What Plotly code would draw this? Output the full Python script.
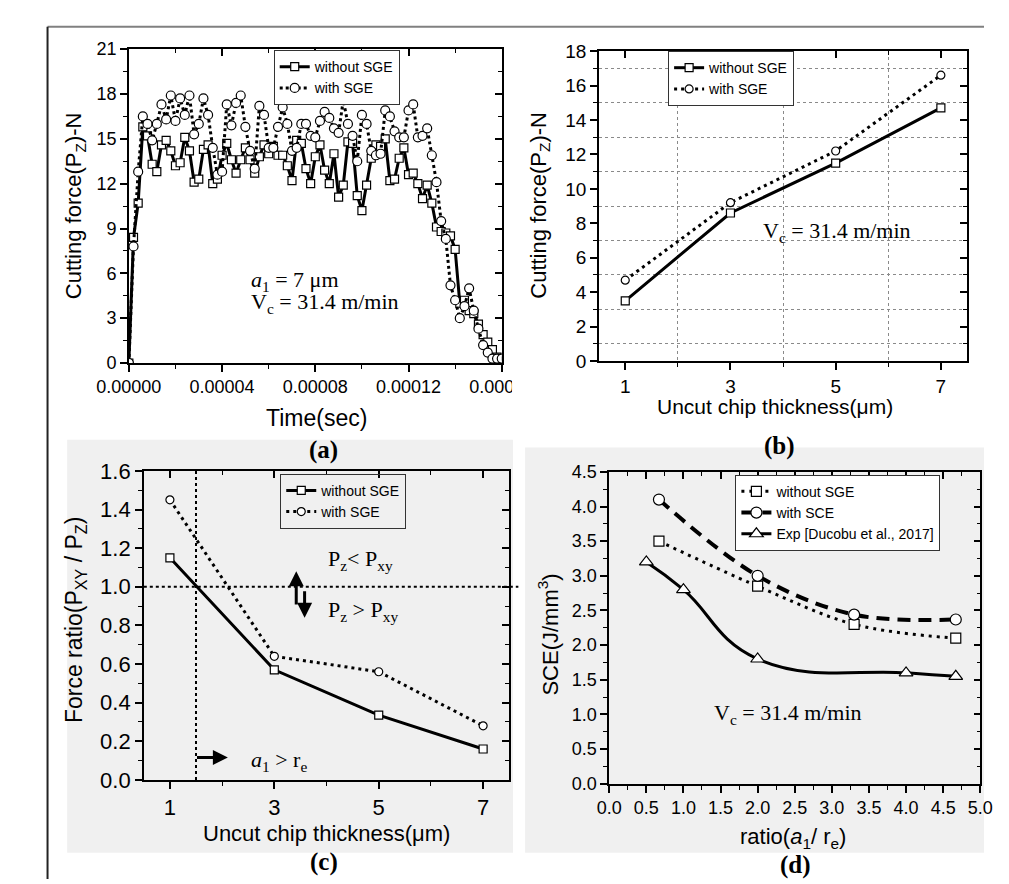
import plotly.graph_objects as go

W, H = 1009, 884

# ---------------- data ----------------
# (a) cutting force vs time, a1 = 7 um
TIME_STEP = 2e-6
a_without = [0, 8.4, 10.7, 15.8, 15.2, 13.3, 12.8, 14.6, 14.9, 14.2,
             13.2, 13.4, 15.1, 14.2, 12.1, 12.3, 14.3, 14.6, 12.0, 12.3,
             13.9, 14.7, 13.6, 12.7, 13.6, 14.4, 13.6, 12.7, 13.8, 14.6,
             14.0, 14.5, 13.9, 13.9, 13.2, 12.2, 14.9, 14.7, 13.0, 12.0,
             13.8, 14.6, 12.9, 12.0, 14.0, 11.1, 11.9, 14.8, 14.7, 11.2,
             10.2, 11.9, 13.7, 14.6, 14.5, 15.0, 12.2, 12.3, 13.7, 14.4,
             12.6, 12.7, 12.0, 11.0, 11.9, 10.7, 9.1, 8.8, 8.7, 8.5,
             7.6, 4.0, 4.2, 3.5, 3.3, 2.6, 1.9, 1.4, 0.9, 0.4, 0.3]
a_with = [0, 7.8, 12.8, 16.5, 16.0, 14.9, 16.0, 17.3, 16.3, 17.9,
          16.2, 17.7, 16.6, 17.9, 15.3, 16.0, 17.7, 16.6, 14.4, 12.6,
          12.8, 17.3, 15.9, 17.4, 17.9, 15.8, 14.2, 13.0, 17.2, 16.6,
          14.4, 14.4, 15.8, 17.1, 16.0, 14.2, 14.4, 16.0, 16.0, 15.2,
          15.1, 16.2, 16.8, 16.4, 15.7, 15.4, 17.6, 16.0, 15.2, 13.5,
          16.6, 16.0, 14.2, 13.9, 14.0, 16.9, 16.5, 15.5, 15.1, 15.1,
          16.9, 17.3, 15.1, 15.2, 15.7, 13.9, 12.1, 9.5, 8.3, 5.2,
          4.2, 3.0, 3.8, 5.0, 3.5, 2.3, 1.2, 0.7, 0.3, 0.3, 0.3]
a_time = [i * TIME_STEP for i in range(len(a_without))]

# (b) cutting force vs uncut chip thickness
thickness = [1, 3, 5, 7]
b_without = [3.5, 8.6, 11.5, 14.7]
b_with = [4.7, 9.2, 12.2, 16.6]

# (c) force ratio vs uncut chip thickness
c_without = [1.15, 0.57, 0.335, 0.16]
c_with = [1.45, 0.64, 0.56, 0.28]
c_vline = 1.5
c_hline = 1.0

# (d) specific cutting energy vs ratio a1/re
d_ratio_sim = [0.67, 2.0, 3.3, 4.67]
d_without = [3.5, 2.85, 2.3, 2.1]
d_with = [4.1, 3.0, 2.44, 2.37]
d_ratio_exp = [0.5, 1.0, 2.0, 4.0, 4.67]
d_exp = [3.2, 2.8, 1.8, 1.6, 1.55]

# ---------------- helpers ----------------
SANS = "Liberation Sans, Arial, sans-serif"
SERIF = "Liberation Serif, Times New Roman, serif"


def px_x(p):
    return p / W


def px_y(p):
    return 1 - p / H


fig = go.Figure()


def add_line(x, y, xa, ya, name, dash, width, symbol, msize, legend, shape="linear", smoothing=1.0, show=True):
    fig.add_trace(go.Scatter(
        x=x, y=y, xaxis=xa, yaxis=ya, name=name, mode="lines+markers",
        line=dict(color="black", width=width, dash=dash, shape=shape, smoothing=smoothing),
        marker=dict(symbol=symbol, size=msize, color="white", line=dict(color="black", width=1.2)),
        legend=legend, showlegend=show))


add_line(a_time, a_without, "x", "y", "without SGE", "solid", 3, "square-open", 8, "legend")
add_line(a_time, a_with, "x", "y", "with SGE", "3px,3px", 3, "circle-open", 9, "legend")
# fix marker fill white
for tr in fig.data:
    tr.marker.symbol = tr.marker.symbol.replace("-open", "")

add_line(thickness, b_without, "x2", "y2", "without SGE", "solid", 3, "square", 8, "legend2")
add_line(thickness, b_with, "x2", "y2", "with SGE", "3px,4px", 3, "circle", 8, "legend2")

add_line(thickness, c_without, "x3", "y3", "without SGE", "solid", 3, "square", 8, "legend3")
add_line(thickness, c_with, "x3", "y3", "with SGE", "3px,4px", 3, "circle", 8, "legend3")

add_line(d_ratio_sim, d_without, "x4", "y4", "without SGE", "3px,5px", 3, "square", 10, "legend4", "spline", 1.0)
add_line(d_ratio_sim, d_with, "x4", "y4", "with SCE", "13px,8px", 4, "circle", 11, "legend4", "spline", 1.0)
add_line(d_ratio_exp, d_exp, "x4", "y4", "Exp [Ducobu et al., 2017]", "solid", 3, "triangle-up", 12, "legend4", "spline", 1.3)

# dummy traces for the top/right mirrored axes (inside ticks)
for i, (mx, my) in enumerate([("x", "y"), ("x2", "y2"), ("x3", "y3"), ("x4", "y4")]):
    k = i + 5
    fig.add_trace(go.Scatter(x=[None], y=[None], xaxis="x%d" % k, yaxis=my, showlegend=False, hoverinfo="skip"))
    fig.add_trace(go.Scatter(x=[None], y=[None], xaxis=mx, yaxis="y%d" % k, showlegend=False, hoverinfo="skip"))

panels = {
    # name: (xdom px, ydom px, xrange, xtick0, xdtick, xminor, xfmt, yrange, ydtick, yminor, yfmt, tickfont)
    1: ((94, 493), (30, 353), [0, 0.00016], 0, 0.00004, 0.00002, ".5f", [0, 21], 3, 1.5, "d", 18),
    2: ((597, 991), (32, 351), [0.5, 7.5], 1, 2, 1, "d", [0, 18], 2, 1, "d", 19),
    3: ((110, 501), (464, 782), [0.5, 7.5], 1, 2, 1, "d", [0, 1.6], 0.2, 0.1, ".1f", 22),
    4: ((608, 1005), (465, 786), [0, 5.0], 0, 0.5, 0.25, ".1f", [0, 4.5], 0.5, 0.25, ".1f", 18),
}

layout = dict(
    width=W, height=H, margin=dict(l=0, r=0, t=0, b=0),
    paper_bgcolor="white", plot_bgcolor="rgba(0,0,0,0)",
    font=dict(family=SANS, color="black"),
)

for k, (xd, yd, xr, xt0, xdt, xmin, xfmt, yr, ydt, ymin, yfmt, tf) in panels.items():
    sfx = "" if k == 1 else str(k)
    xdom = [px_x(xd[0]), px_x(xd[1])]
    ydom = [px_y(yd[1]), px_y(yd[0])]
    grid = (k == 2)
    common_minor_grid = dict(showgrid=True, griddash="dot", gridcolor="#8a8a8a", gridwidth=1) if grid else dict(showgrid=False)
    layout["xaxis" + sfx] = dict(
        domain=xdom, anchor="y" + sfx, range=xr, tick0=xt0, dtick=xdt, tickformat=xfmt,
        ticks="outside", ticklen=7, tickwidth=1.5, tickcolor="black",
        showline=True, linecolor="black", linewidth=1.5, showgrid=False, zeroline=False,
        tickfont=dict(family=SANS, size=tf, color="black"),
        minor=dict(dtick=xmin, tick0=xt0, ticks="outside", ticklen=4, tickwidth=1.2, tickcolor="black", **common_minor_grid),
    )
    layout["yaxis" + sfx] = dict(
        domain=ydom, anchor="x" + sfx, range=yr, dtick=ydt, tick0=0, tickformat=yfmt,
        ticks="outside", ticklen=7, tickwidth=1.5, tickcolor="black",
        showline=True, linecolor="black", linewidth=1.5, showgrid=False, zeroline=False,
        tickfont=dict(family=SANS, size=tf, color="black"),
        minor=dict(dtick=ymin, tick0=0, ticks="outside", ticklen=4, tickwidth=1.2, tickcolor="black", **common_minor_grid),
    )
    kk = k + 4
    layout["xaxis%d" % kk] = dict(
        overlaying="x" + sfx, anchor="y" + sfx, side="top", range=xr, tick0=xt0, dtick=xdt,
        ticks="inside", ticklen=7, tickwidth=1.5, tickcolor="black", showticklabels=False,
        showline=True, linecolor="black", linewidth=1.5, showgrid=False, zeroline=False,
        minor=dict(dtick=xmin, tick0=xt0, ticks="inside", ticklen=4, tickwidth=1.2, tickcolor="black", showgrid=False),
    )
    layout["yaxis%d" % kk] = dict(
        overlaying="y" + sfx, anchor="x" + sfx, side="right", range=yr, dtick=ydt, tick0=0,
        ticks="inside", ticklen=7, tickwidth=1.5, tickcolor="black", showticklabels=False,
        showline=True, linecolor="black", linewidth=1.5, showgrid=False, zeroline=False,
        minor=dict(dtick=ymin, tick0=0, ticks="inside", ticklen=4, tickwidth=1.2, tickcolor="black", showgrid=False),
    )

leg_common = dict(xanchor="left", yanchor="top", bordercolor="#333", borderwidth=1,
                  font=dict(family=SANS, size=14, color="black"), tracegroupgap=0,
                  itemsizing="trace", itemwidth=30)
layout["legend"] = dict(x=px_x(249), y=px_y(31), bgcolor="white", **leg_common)
layout["legend2"] = dict(x=px_x(671), y=px_y(32), bgcolor="white", **leg_common)
layout["legend3"] = dict(x=px_x(256), y=px_y(467), bgcolor="rgba(0,0,0,0)", **leg_common)
layout["legend4"] = dict(x=px_x(743), y=px_y(468), bgcolor="white", **leg_common)

fig.update_layout(**layout)

# ---------------- background / frame shapes ----------------
shapes = [
    dict(type="rect", xref="paper", yref="paper", x0=px_x(28), x1=px_x(505), y0=px_y(857), y1=px_y(432),
         fillcolor="#f0f0f0", line=dict(width=0), layer="below"),
    dict(type="rect", xref="paper", yref="paper", x0=px_x(518), x1=1, y0=px_y(857), y1=px_y(440),
         fillcolor="#f0f0f0", line=dict(width=0), layer="below"),
    dict(type="line", xref="paper", yref="paper", x0=px_x(7), x1=1, y0=px_y(7), y1=px_y(7),
         line=dict(color="#808080", width=2)),
    dict(type="line", xref="paper", yref="paper", x0=px_x(7), x1=px_x(7), y0=px_y(7), y1=0,
         line=dict(color="#222", width=2)),
    # clip of last time tick label (as in the source figure)
    dict(type="rect", xref="paper", yref="paper", x0=px_x(504), x1=px_x(560), y0=px_y(392), y1=px_y(362),
         fillcolor="white", line=dict(width=0), layer="above"),
    # reference lines in (c)
    dict(type="line", xref="x3", yref="y3 domain", x0=c_vline, x1=c_vline, y0=0, y1=1,
         line=dict(color="black", width=2, dash="dot")),
    dict(type="line", xref="x3 domain", yref="y3", x0=0, x1=1.025, y0=c_hline, y1=c_hline,
         line=dict(color="black", width=2, dash="dot")),
]
fig.update_layout(shapes=shapes)

# ---------------- texts ----------------
ann = []


def ptext(text, x, y, size, family=SANS, angle=0, **kw):
    ann.append(dict(text=text, x=px_x(x), y=px_y(y), xref="paper", yref="paper", showarrow=False,
                    font=dict(family=family, size=size, color="black"), textangle=angle,
                    xanchor="center", yanchor="middle", **kw))


# axis titles
ptext("Cutting force(P<sub>Z</sub>)-N", 36, 191, 22, angle=-90)
ptext("Time(sec)", 295, 410, 23)
ptext("Cutting force(P<sub>Z</sub>)-N", 533, 191, 22, angle=-90)
ptext("Uncut chip thickness(μm)", 785, 398, 21)
ptext("Force ratio(P<sub>XY</sub> / P<sub>Z</sub>)", 37, 618, 23, angle=-90)
ptext("Uncut chip thickness(μm)", 306, 837, 22)
ptext("SCE(J/mm<sup>3</sup>)", 543, 632, 22, angle=-90)
ptext("ratio(<i>a</i><sub>1</sub>/ r<sub>e</sub>)", 805, 842, 22)
# panel labels
ptext("<b>(a)</b>", 302, 443, 25, family=SERIF)
ptext("<b>(b)</b>", 790, 438, 25, family=SERIF)
ptext("<b>(c)</b>", 303, 867, 25, family=SERIF)
ptext("<b>(d)</b>", 807, 870, 25, family=SERIF)


def dtext(text, x, y, xa, ya, size=22, xanchor="left"):
    ann.append(dict(text=text, x=x, y=y, xref=xa, yref=ya, showarrow=False,
                    font=dict(family=SERIF, size=size, color="black"), xanchor=xanchor, yanchor="middle"))


dtext("<i>a</i><sub>1</sub> = 7 μm", 5.15e-5, 5.5, "x", "y")
dtext("V<sub>c</sub> = 31.4 m/min", 5.15e-5, 4.0, "x", "y")
dtext("V<sub>c</sub> = 31.4 m/min", 3.58, 7.5, "x2", "y2")
dtext("P<sub>z</sub>&lt; P<sub>xy</sub>", 3.99, 1.14, "x3", "y3")
dtext("P<sub>z</sub> &gt; P<sub>xy</sub>", 3.99, 0.875, "x3", "y3")
dtext("<i>a</i><sub>1</sub> &gt; r<sub>e</sub>", 2.51, 0.096, "x3", "y3")
dtext("V<sub>c</sub> = 31.4 m/min", 1.39, 1.0, "x4", "y4")


def arrow(x0, y0, x1, y1):
    ann.append(dict(x=x1, y=y1, ax=x0, ay=y0, xref="x3", yref="y3", axref="x3", ayref="y3",
                    text="", showarrow=True, arrowhead=2, arrowsize=1.0, arrowwidth=3, arrowcolor="black"))


arrow(3.42, 0.90, 3.42, 1.08)
arrow(3.58, 0.985, 3.58, 0.84)
arrow(1.49, 0.116, 2.11, 0.116)

fig.update_layout(annotations=ann)

fig.write_html("out.html")
